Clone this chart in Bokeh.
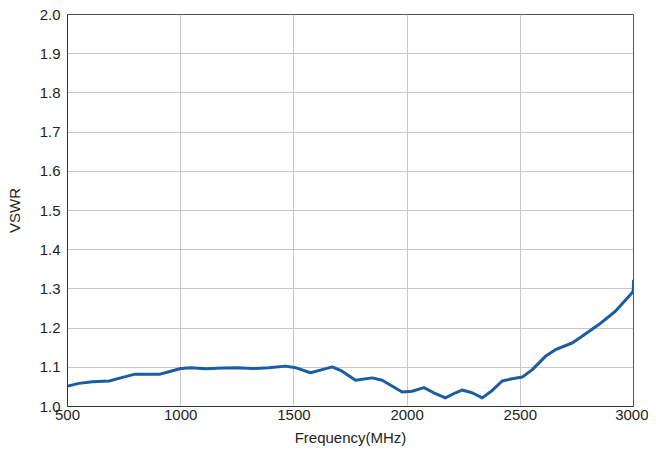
from bokeh.plotting import figure
from bokeh.models import Range1d, FixedTicker, CustomJSTickFormatter
from bokeh.embed import file_html
from bokeh.resources import INLINE

freq = [500, 551, 610, 684, 735, 794, 846, 905, 956, 1000, 1045, 1111, 1185, 1251, 1317,
        1389, 1463, 1507, 1573, 1625, 1669, 1713, 1772, 1846, 1890, 1978, 2022, 2074,
        2118, 2169, 2214, 2243, 2287, 2332, 2376, 2420, 2464, 2509, 2553, 2611, 2655,
        2729, 2773, 2847, 2920, 2987, 2999, 3000]
vswr = [1.052, 1.059, 1.063, 1.065, 1.073, 1.082, 1.082, 1.082, 1.090, 1.097, 1.099, 1.096,
        1.098, 1.099, 1.097, 1.099, 1.103, 1.099, 1.086, 1.094, 1.101, 1.090, 1.067, 1.073,
        1.067, 1.037, 1.039, 1.048, 1.035, 1.022, 1.035, 1.042, 1.035, 1.022, 1.041, 1.065,
        1.071, 1.075, 1.094, 1.128, 1.145, 1.162, 1.179, 1.209, 1.243, 1.286, 1.294, 1.320]
x_ticks = [500, 1000, 1500, 2000, 2500, 3000]
y_ticks = [1.0, 1.1, 1.2, 1.3, 1.4, 1.5, 1.6, 1.7, 1.8, 1.9, 2.0]

FONT = "Liberation Sans"
TXT = "#231f20"

p = figure(width=648, height=448, output_backend="svg", toolbar_location=None,
           x_range=Range1d(500, 3000), y_range=Range1d(1.0, 2.0),
           min_border_left=67, min_border_top=14, min_border_right=15, min_border_bottom=41)
p.background_fill_color = "white"
p.border_fill_color = "white"
p.outline_line_color = "#555555"
p.outline_line_width = 1

p.line(freq, vswr, line_color="#1b5ca3", line_width=3, line_join="round", line_cap="round")

for ax in (p.xaxis, p.yaxis):
    ax.major_tick_line_color = None
    ax.minor_tick_line_color = None
    ax.major_tick_out = 0
    ax.major_tick_in = 0
    ax.axis_line_color = "#333333"
    ax.major_label_text_font = FONT
    ax.major_label_text_font_size = "15px"
    ax.major_label_text_color = TXT
    ax.axis_label_text_font = FONT
    ax.axis_label_text_font_size = "15px"
    ax.axis_label_text_font_style = "normal"
    ax.axis_label_text_color = TXT

p.xaxis.ticker = FixedTicker(ticks=x_ticks)
p.yaxis.ticker = FixedTicker(ticks=y_ticks)
p.yaxis.formatter = CustomJSTickFormatter(code="return tick.toFixed(1);")
p.xaxis.axis_label = "Frequency(MHz)"
p.yaxis.axis_label = "VSWR"
p.xaxis.major_label_standoff = 3
p.yaxis.major_label_standoff = 7
p.xaxis.axis_label_standoff = 6
p.yaxis.axis_label_standoff = 14

p.xgrid.grid_line_color = "#c8c8c8"
p.ygrid.grid_line_color = "#c8c8c8"
p.xgrid.grid_line_width = 1
p.ygrid.grid_line_width = 1

open("out.html", "w").write(file_html(p, INLINE))
